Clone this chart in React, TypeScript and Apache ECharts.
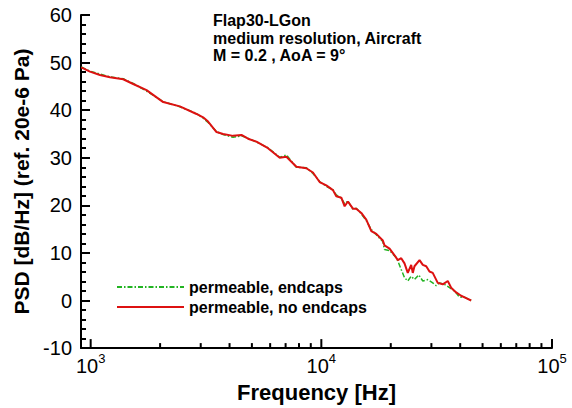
import React, { useEffect, useRef } from 'react';
import * as echarts from 'echarts';

// ---- data ----
const seriesNames = ['permeable, endcaps', 'permeable, no endcaps'];

const freqRed = [
  910, 993, 1097, 1212, 1384, 1529, 1747, 2063, 2436, 2877, 3072, 3229, 3512, 3750, 4143, 4505,
  4812, 5231, 5871, 6600, 7055, 7795, 8612, 9196, 9832, 10510, 11230, 11610, 12210, 12620, 13040,
  13710, 14170, 14900, 15660, 16470, 17310, 18480, 18790, 19760, 20770, 21460, 22200, 22940, 23700,
  24520, 24910, 25340, 26650, 27540, 28490, 29430, 30410, 31970, 33610, 35330, 36540, 38420, 40370,
  42440, 44620,
];
const psdRed = [
  49.0, 48.1, 47.4, 46.9, 46.5, 45.5, 44.2, 41.7, 40.8, 39.2, 38.5, 37.6, 35.4, 35.0, 34.6, 34.8,
  34.0, 33.4, 32.0, 30.0, 30.2, 28.1, 27.8, 26.9, 24.9, 24.2, 23.2, 21.9, 21.6, 19.8, 20.8,
  19.3, 19.3, 18.4, 17.0, 14.6, 14.0, 12.6, 11.6, 10.9, 9.5, 8.5, 8.9, 7.8, 5.8,
  7.5, 5.8, 7.2, 8.5, 7.5, 7.2, 6.1, 5.8, 3.7, 3.4, 4.1, 2.7, 1.7, 1.0,
  0.5, 0.0,
];

const freqGreen = [
  910, 993, 1097, 1212, 1384, 1529, 1747, 2063, 2436, 2877, 3072, 3229, 3512, 3750, 4143, 4505,
  4812, 5231, 5871, 6600, 7055, 7795, 8612, 9196, 9832, 10510, 11230, 11610, 12210, 12620, 13040,
  13710, 14170, 14900, 15660, 16470, 17310, 18480, 18790, 19760, 21220, 22200, 22940, 23700, 24520,
  25340, 26440, 27540, 28950, 30410, 31470, 32520, 34200, 35950, 37790, 39720, 41750, 44620,
];
const psdGreen = [
  49.1, 48.2, 47.6, 47.0, 46.6, 45.6, 44.0, 41.8, 40.7, 39.3, 38.3, 37.4, 35.5, 34.9, 34.3, 34.6,
  34.1, 33.3, 32.1, 30.1, 30.6, 28.0, 27.9, 26.7, 25.0, 24.0, 23.3, 22.2, 21.5, 20.3, 20.9,
  19.1, 19.4, 18.2, 16.8, 14.9, 13.8, 12.4, 10.7, 10.5, 8.9, 6.5, 4.8, 4.1, 5.1,
  4.4, 5.4, 4.1, 4.4, 3.7, 3.1, 3.7, 3.4, 2.7, 2.0, 0.7, 0.7, 0.0,
];

const titleLines = ['Flap30-LGon', 'medium resolution, Aircraft', 'M = 0.2 , AoA = 9°'];
const xMin = 908;
const xMax = 100000;
const xMajorTicks = [1000, 10000, 100000];
const xMinorTicks = [
  2000, 3000, 4000, 5000, 6000, 7000, 8000, 9000,
  20000, 30000, 40000, 50000, 60000, 70000, 80000, 90000,
];
const yMin = -10;
const yMax = 60;
const yStep = 10;

const FONT = '"Liberation Sans", Arial, Helvetica, sans-serif';

export default function App() {
  const ref = useRef<HTMLDivElement>(null);

  useEffect(() => {
    if (!ref.current) return;
    const chart = echarts.init(ref.current, undefined, { renderer: 'svg' });

    const pairs = (xs: number[], ys: number[]) => xs.map((x, i) => [x, ys[i]]);

    const axisLineStyle = { color: '#000', width: 2 };

    // inward x-axis ticks drawn through the log axis' own coordinate mapping
    const tickSeries = (values: number[], len: number) => ({
      type: 'custom',
      silent: true,
      clip: false,
      z: 5,
      data: values.map((v) => [v, yMin]),
      encode: { x: 0, y: 1 },
      renderItem: (_params: any, api: any) => {
        const p = api.coord([api.value(0), api.value(1)]);
        return {
          type: 'line',
          shape: { x1: p[0], y1: p[1], x2: p[0], y2: p[1] - len },
          style: { stroke: '#000', lineWidth: 2 },
        };
      },
    });

    chart.setOption({
      animation: false,
      backgroundColor: '#fff',
      textStyle: { fontFamily: FONT },
      grid: { left: 81, right: 20, top: 15, bottom: 51, containLabel: false },
      legend: {
        orient: 'vertical',
        left: 116,
        top: 279,
        padding: 0,
        itemWidth: 67,
        itemHeight: 16,
        itemGap: 4,
        selectedMode: false,
        data: seriesNames,
        itemStyle: { opacity: 0 },
        textStyle: { fontSize: 16, fontWeight: 'bold', color: '#000', fontFamily: FONT },
      },
      graphic: [
        {
          type: 'text',
          left: 213,
          top: 12,
          style: {
            text: titleLines.join('\n'),
            fontSize: 16,
            fontWeight: 'bold',
            fontFamily: FONT,
            lineHeight: 17.5,
            fill: '#000',
          },
        },
      ],
      xAxis: {
        type: 'log',
        logBase: 10,
        min: xMin,
        max: xMax,
        position: 'bottom',
        name: 'Frequency [Hz]',
        nameLocation: 'middle',
        nameGap: 25,
        nameTextStyle: { fontSize: 22, fontWeight: 'bold', color: '#000', fontFamily: FONT },
        axisLine: { show: true, onZero: false, lineStyle: axisLineStyle },
        axisTick: { show: false },
        axisLabel: {
          customValues: xMajorTicks,
          margin: 4,
          formatter: (v: number) => `{b|10}{s|${Math.round(Math.log10(v))}}`,
          rich: {
            b: { fontSize: 20, lineHeight: 24, verticalAlign: 'bottom', color: '#000', fontFamily: FONT },
            s: { fontSize: 13, lineHeight: 13, verticalAlign: 'top', color: '#000', fontFamily: FONT },
          },
        },
        splitLine: { show: false },
        minorTick: { show: false },
      },
      yAxis: {
        type: 'value',
        min: yMin,
        max: yMax,
        interval: yStep,
        name: 'PSD [dB/Hz] (ref. 20e-6 Pa)',
        nameLocation: 'middle',
        nameGap: 40,
        nameTextStyle: { fontSize: 21, fontWeight: 'bold', color: '#000', fontFamily: FONT },
        axisLine: { show: true, onZero: false, lineStyle: axisLineStyle },
        axisTick: { show: true, inside: true, length: 9, lineStyle: axisLineStyle },
        minorTick: { show: true, splitNumber: 5, length: 5, lineStyle: axisLineStyle },
        axisLabel: { fontSize: 20, color: '#000', margin: 9, fontFamily: FONT },
        splitLine: { show: false },
        minorSplitLine: { show: false },
      },
      series: [
        tickSeries(xMajorTicks, 9),
        tickSeries(xMinorTicks, 5),
        {
          name: seriesNames[0],
          type: 'line',
          data: pairs(freqGreen, psdGreen),
          showSymbol: false,
          symbol: 'none',
          lineStyle: { color: '#22b422', width: 1.5, type: [5, 2, 1.5, 2] },
          itemStyle: { color: '#22b422' },
        },
        {
          name: seriesNames[1],
          type: 'line',
          data: pairs(freqRed, psdRed),
          showSymbol: false,
          symbol: 'none',
          lineStyle: { color: '#dd1111', width: 2 },
          itemStyle: { color: '#dd1111' },
        },
      ],
    });

    return () => chart.dispose();
  }, []);

  return (
    <div
      ref={ref}
      style={{ position: 'fixed', left: 0, top: 0, width: 572, height: 408, background: '#fff' }}
    />
  );
}
